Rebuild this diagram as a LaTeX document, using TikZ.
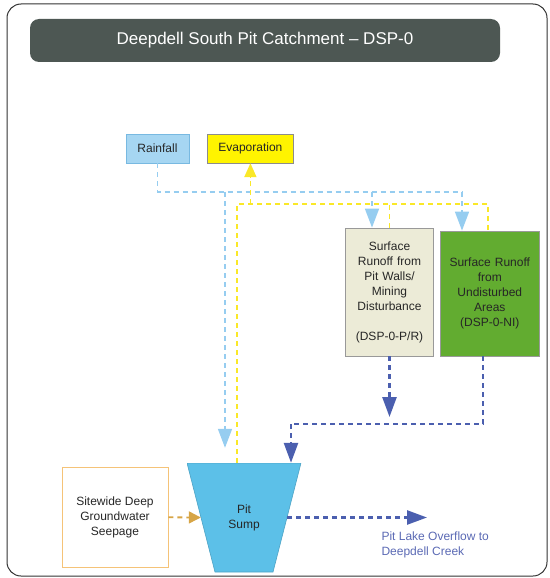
\documentclass[tikz,border=0pt]{standalone}
\usepackage{fontspec}
\setmainfont{Liberation Sans}
\usetikzlibrary{shapes,arrows.meta}
\usetikzlibrary{positioning}
\definecolor{titlegray}{RGB}{77,87,83}
\definecolor{rainfill}{RGB}{166,214,242}
\definecolor{rainedge}{RGB}{120,185,225}
\definecolor{rainline}{RGB}{150,205,240}
\definecolor{evapfill}{RGB}{255,244,0}
\definecolor{evapline}{RGB}{250,232,40}
\definecolor{prfill}{RGB}{236,235,215}
\definecolor{undfill}{RGB}{98,172,48}
\definecolor{sumpfill}{RGB}{92,192,232}
\definecolor{runline}{RGB}{75,95,175}
\definecolor{seepedge}{RGB}{245,195,120}
\definecolor{seepline}{RGB}{215,165,70}
\definecolor{outtext}{RGB}{90,105,180}
\tikzset{auto, font=\fontsize{12}{15}\selectfont, text=black!85}
\tikzstyle{block} = [draw, rectangle, inner sep=2pt, text centered, align=center]
\tikzstyle{rain} = [block, draw=rainedge, fill=rainfill, minimum width=63pt, minimum height=29pt]
\tikzstyle{evap} = [block, draw=black!45, fill=evapfill, minimum width=86pt, minimum height=29pt]
\tikzstyle{runoff} = [block, draw=black!40, line width=0.8pt, text width=84pt, minimum width=87pt]
\tikzstyle{sump} = [rectangle, minimum width=114pt, minimum height=109pt, inner sep=0pt, align=center,
	path picture={\filldraw [fill=sumpfill, draw=sumpfill!85!black, line width=0.6pt]
		(path picture bounding box.north west) -- (path picture bounding box.north east)
		-- ([xshift=-28pt]path picture bounding box.south east) -- ([xshift=28pt]path picture bounding box.south west) -- cycle;}]
\tikzstyle{seep} = [block, draw=seepedge, line width=0.8pt, minimum width=106pt, minimum height=100pt]
\tikzstyle{title} = [rectangle, rounded corners=9pt, fill=titlegray, text=white, minimum width=470pt, minimum height=43pt, font=\fontsize{17}{20}\selectfont]
\tikzstyle{rainflow} = [draw=rainline, line width=1.6pt, dash pattern=on 5pt off 4pt, >={Triangle[width=14pt,length=19pt]}]
\tikzstyle{evapflow} = [draw=evapline, line width=1.8pt, dash pattern=on 5pt off 4pt, >={Triangle[width=12pt,length=14pt]}]
\tikzstyle{runflow} = [draw=runline, line width=2.6pt, dash pattern=on 5pt off 4pt, >={Triangle[width=14pt,length=20pt]}]
\tikzstyle{seepflow} = [draw=seepline, line width=1.8pt, dash pattern=on 5pt off 4pt, >={Triangle[width=12pt,length=12pt]}]
\tikzstyle{input} = [coordinate]
\begin{document}
\begin{tikzpicture}[x=1pt, y=-1pt]
	\useasboundingbox (0,0) rectangle (549,578);
	\draw [black!80, line width=1pt, rounded corners=14pt] (7,4) rectangle (547,576);

	\node [title] (title) at (265,40.5) {Deepdell South Pit Catchment -- DSP-0};

	\node [rain] (rain) at (157.5,148.5) {Rainfall};
	\node [evap, right=18pt of rain] (evap) {Evaporation};

	\node [runoff, fill=prfill, minimum height=128pt] (pr) at (389.5,292) {Surface\\Runoff from\\Pit Walls/\\Mining\\Disturbance\\[15pt](DSP-0-P/R)};
	\node [runoff, fill=undfill, minimum height=125pt, anchor=south west, text width=95pt, minimum width=98pt] (und) at ([xshift=6pt]pr.south east) {Surface Runoff\\from\\Undisturbed\\Areas\\(DSP-0-NI)};

	\node [sump] (sump) at (244,517.5) {Pit\\Sump};
	\node [seep] (seep) at (115,517) {Sitewide Deep\\Groundwater\\Seepage};

	\node [input] (rain_r) at (462,192) {};
	\node [input] (rain_p) at (372,192) {};
	\node [input] (rain_s) at (225,192) {};
	\node [input] (evap_l) at (237,204) {};
	\node [input] (evap_r) at (488,204) {};
	\node [input] (run_bus) at (483,424) {};
	\node [input] (run_in) at (291,424) {};
	\node [input] (overflow) at (427,517.5) {};
	\node [anchor=north west, text=outtext, align=left] (overflow_lbl) at (378,528) {Pit Lake Overflow to\\Deepdell Creek};

	\draw [rainflow] (rain.south) |- (rain_r);
	\draw [rainflow,->] (rain_r) -- (rain_r |- und.north);
	\draw [rainflow,->] (rain_p) -- (rain_p |- pr.north);
	\draw [rainflow,->, shorten >=15pt] (rain_s) -- (rain_s |- sump.north);

	\draw [evapflow] (evap_l |- sump.north) -- (evap_l) -- (evap_r) -- (evap_r |- und.north);
	\draw [evapflow] (pr.north) -- (pr.north |- evap_r);
	\draw [evapflow,->] (evap.south |- evap_r) -- (evap.south);

	\draw [runflow,->, shorten >=7pt] (pr.south) -- (pr.south |- run_bus);
	\draw [runflow] (run_bus |- und.south) -- (run_bus) -- (run_in);
	\draw [runflow,->] (run_in) -- (run_in |- sump.north);
	\draw [runflow,->] ([xshift=-14pt]sump.east) -- (overflow);

	\draw [seepflow,->] (seep) -- ([xshift=14pt]sump.west);
\end{tikzpicture}
\end{document}
